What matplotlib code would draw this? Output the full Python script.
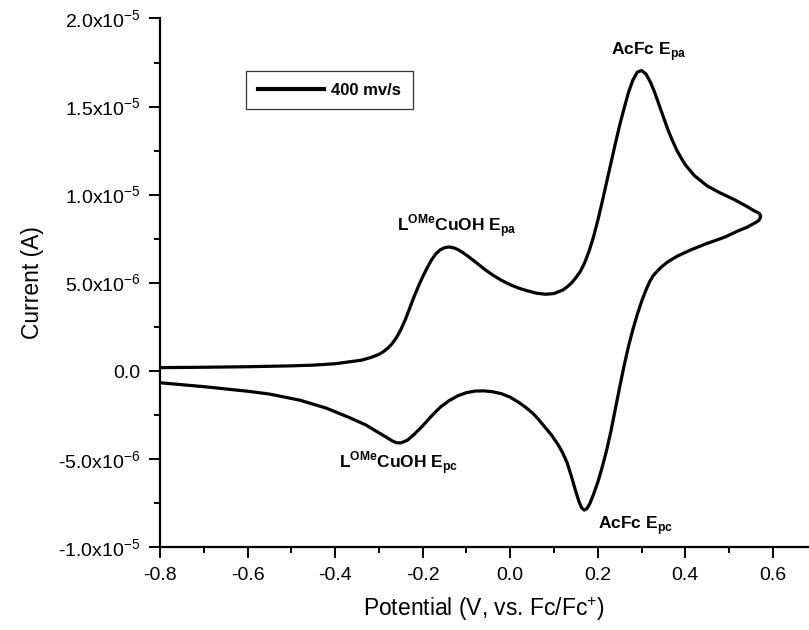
import numpy as np
import matplotlib
matplotlib.use("Agg")
import matplotlib.pyplot as plt
from matplotlib.ticker import MultipleLocator

plt.rcParams['font.family'] = ['Liberation Sans', 'DejaVu Sans']
plt.rcParams['mathtext.fontset'] = 'custom'
plt.rcParams['mathtext.rm'] = 'Liberation Sans'
plt.rcParams['mathtext.bf'] = 'Liberation Sans:bold'

# forward (anodic) scan, potential in V and current in uA
fwd_x = [-0.80, -0.70, -0.60, -0.50, -0.45, -0.40, -0.37, -0.34, -0.32, -0.30,
         -0.29, -0.28, -0.27, -0.26, -0.25, -0.24, -0.23, -0.22, -0.21, -0.20,
         -0.19, -0.18, -0.17, -0.16, -0.15, -0.14, -0.13, -0.12, -0.11, -0.10,
         -0.08, -0.06, -0.04, -0.02, 0.00, 0.02, 0.04, 0.06, 0.08, 0.10,
         0.12, 0.13, 0.14, 0.15, 0.16, 0.17, 0.18, 0.19, 0.20, 0.21,
         0.22, 0.23, 0.24, 0.25, 0.26, 0.27, 0.28, 0.29, 0.30, 0.31,
         0.32, 0.33, 0.34, 0.35, 0.36, 0.37, 0.38, 0.39, 0.40, 0.42,
         0.45, 0.48, 0.51, 0.54, 0.555, 0.565, 0.570]
fwd_y = [0.20, 0.22, 0.25, 0.30, 0.34, 0.42, 0.52, 0.62, 0.76, 0.95,
         1.10, 1.30, 1.55, 1.90, 2.35, 2.90, 3.55, 4.20, 4.80, 5.35,
         5.85, 6.30, 6.65, 6.88, 7.00, 7.04, 7.00, 6.90, 6.75, 6.58,
         6.20, 5.80, 5.45, 5.15, 4.90, 4.70, 4.55, 4.42, 4.36, 4.40,
         4.60, 4.78, 5.00, 5.30, 5.65, 6.15, 6.80, 7.60, 8.55, 9.60,
         10.70, 11.80, 12.90, 13.95, 14.90, 15.80, 16.50, 16.95, 17.05, 16.85,
         16.40, 15.80, 15.10, 14.40, 13.70, 13.10, 12.55, 12.10, 11.70, 11.10,
         10.50, 10.10, 9.75, 9.35, 9.12, 9.00, 8.92]

# reverse (cathodic) scan
rev_x = [0.572, 0.568, 0.56, 0.54, 0.52, 0.49, 0.445, 0.41, 0.38, 0.36,
         0.345, 0.335, 0.326, 0.318, 0.31, 0.30, 0.29, 0.28, 0.27, 0.26,
         0.25, 0.24, 0.23, 0.22, 0.21, 0.20, 0.19, 0.182, 0.175, 0.169,
         0.163, 0.157, 0.15, 0.14, 0.13, 0.12, 0.11, 0.095, 0.08, 0.065,
         0.052, 0.035, 0.02, 0.00, -0.02, -0.04, -0.06, -0.08, -0.10, -0.12,
         -0.14, -0.16, -0.18, -0.20, -0.22, -0.235, -0.25, -0.26, -0.27, -0.285,
         -0.30, -0.33, -0.366, -0.42, -0.48, -0.55, -0.60, -0.70, -0.80]
rev_y = [8.75, 8.55, 8.42, 8.15, 7.95, 7.60, 7.20, 6.85, 6.50, 6.20,
         5.90, 5.65, 5.40, 5.05, 4.60, 3.95, 3.20, 2.35, 1.40, 0.30,
         -0.90, -2.15, -3.40, -4.50, -5.45, -6.30, -7.00, -7.50, -7.80, -7.88,
         -7.75, -7.40, -6.85, -6.00, -5.20, -4.65, -4.20, -3.65, -3.20, -2.75,
         -2.40, -2.05, -1.78, -1.48, -1.28, -1.17, -1.12, -1.13, -1.22, -1.40,
         -1.68, -2.05, -2.55, -3.10, -3.60, -3.92, -4.07, -4.06, -3.95, -3.72,
         -3.50, -3.05, -2.65, -2.10, -1.65, -1.30, -1.14, -0.88, -0.66]

x_ticks = [-0.8, -0.6, -0.4, -0.2, 0.0, 0.2, 0.4, 0.6]
x_labels = ['-0.8', '-0.6', '-0.4', '-0.2', '0.0', '0.2', '0.4', '0.6']
y_ticks = [-1.0e-5, -5.0e-6, 0.0, 5.0e-6, 1.0e-5, 1.5e-5, 2.0e-5]
y_labels = ['-1.0x10$^{-5}$', '-5.0x10$^{-6}$', '0.0', '5.0x10$^{-6}$',
            '1.0x10$^{-5}$', '1.5x10$^{-5}$', '2.0x10$^{-5}$']

x = np.array(fwd_x + rev_x)
y = np.array(fwd_y + rev_y) * 1e-6

fig = plt.figure(figsize=(8.09, 6.30), dpi=100)
ax = fig.add_axes([0.1978, 0.131, 0.8022, 0.8397])
ax.plot(x, y, color='black', lw=2.3, solid_joinstyle='round', label='400 mv/s')

ax.set_xlim(-0.8, 0.6824)
ax.set_ylim(-1.0e-5, 2.0e-5)
ax.set_xticks(x_ticks)
ax.set_xticklabels(x_labels)
ax.xaxis.set_minor_locator(MultipleLocator(0.1))
ax.set_yticks(y_ticks)
ax.set_yticklabels(y_labels)
ax.yaxis.set_minor_locator(MultipleLocator(2.5e-6))

for s in ['top', 'right']:
    ax.spines[s].set_visible(False)
for s in ['left', 'bottom']:
    ax.spines[s].set_linewidth(1.6)
ax.tick_params(which='major', direction='out', length=8, width=1.4, labelsize=14, pad=6)
ax.tick_params(which='minor', direction='out', length=4.5, width=1.4)

ax.set_xlabel('Potential (V, vs. Fc/Fc$^{+}$)', fontsize=16.5, labelpad=8)
ax.set_ylabel('Current (A)', fontsize=16.5, labelpad=10)

kw = dict(fontsize=12.5, fontweight='bold', ha='center', va='center')
ax.text(0.315, 18.1e-6, r'AcFc E$_{\mathbf{pa}}$', **kw)
ax.text(-0.122, 8.2e-6, r'L$^{\mathbf{OMe}}$CuOH E$_{\mathbf{pa}}$', **kw)
ax.text(-0.256, -5.2e-6, r'L$^{\mathbf{OMe}}$CuOH E$_{\mathbf{pc}}$', **kw)
ax.text(0.287, -8.75e-6, r'AcFc E$_{\mathbf{pc}}$', **kw)

leg = ax.legend(loc='upper left', bbox_to_anchor=(246 / 809, 1 - 71 / 630),
                bbox_transform=fig.transFigure, frameon=True, fancybox=False,
                handlelength=4.0, handletextpad=0.4, borderpad=0.7, borderaxespad=0,
                prop={'weight': 'bold', 'size': 12})
leg.get_frame().set_edgecolor('black')
leg.get_frame().set_linewidth(0.9)
leg.get_lines()[0].set_linewidth(3)

fig.savefig('out.png', dpi=100)
